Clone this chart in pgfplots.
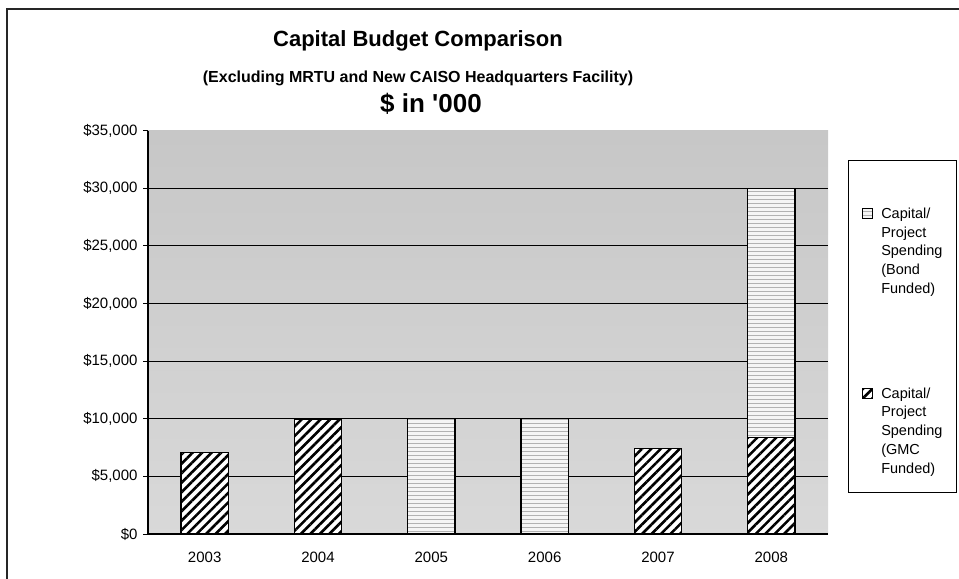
\documentclass[border=0pt]{standalone}
\usepackage{fontspec}
\setmainfont{Liberation Sans}
\usepackage{pgfplots}
\pgfplotsset{compat=1.18}
\usetikzlibrary{patterns.meta}

\pgfplotstableread{
x gmc bond
0 7050 0
1 9950 0
2 0 10000
3 0 10000
4 7400 0
5 8350 21650
}\capdata

\begin{document}
\begin{tikzpicture}
\useasboundingbox (0,0) rectangle (959bp,-579bp);
\draw[line width=1.3bp, black!85] (7bp,-579bp) -- (7bp,-9bp) -- (959bp,-9bp);
\node[font=\bfseries\fontsize{22bp}{26bp}\selectfont, anchor=base] at (418bp,-46bp) {Capital Budget Comparison};
\node[font=\bfseries\fontsize{16bp}{19bp}\selectfont, anchor=base] at (418bp,-82bp) {(Excluding MRTU and New CAISO Headquarters Facility)};
\node[font=\bfseries\fontsize{26bp}{30bp}\selectfont, anchor=base] at (431bp,-112bp) {\$ in \textquotesingle 000};
\draw[line width=1bp, black] (848bp,-160bp) rectangle (956bp,-492bp);
\begin{axis}[
  at={(148bp,-534bp)}, anchor=south west,
  scale only axis, width=680bp, height=403.3bp,
  ybar stacked, bar width=47.6bp,
  xmin=-0.5, xmax=5.5, ymin=0, ymax=35000,
  scaled y ticks=false,
  axis x line*=bottom, axis y line*=left,
  axis line style={line width=1.3bp, black, -},
  tick style={black, line width=1bp},
  major tick length=5bp,
  tick align=outside,
  xtick={0,1,2,3,4,5},
  xticklabels={2003,2004,2005,2006,2007,2008},
  x tick style={draw=none},
  xticklabel style={font=\fontsize{15bp}{18bp}\selectfont, yshift=-9bp},
  extra x ticks={-0.5,0.5,1.5,2.5,3.5,4.5,5.5},
  extra x tick labels={},
  extra x tick style={grid=none, tick style={draw=black, line width=1bp}},
  ytick={0,5000,10000,15000,20000,25000,30000},
  yticklabels={{\$0},{\$5,000},{\$10,000},{\$15,000},{\$20,000},{\$25,000},{\$30,000}},
  extra y ticks={35000},
  extra y tick labels={{\$35{,}000}},
  extra y tick style={grid=none},
  yticklabel style={font=\fontsize{15bp}{18bp}\selectfont, xshift=-2bp},
  ymajorgrids,
  grid style={black, line width=1.1bp},
  axis background/.style={top color=black!22, middle color=black!30, bottom color=black!15},
  clip=false,
  reverse legend,
  legend style={draw=none, fill=none, at={(1.05,0.8108)}, anchor=north west,
    font=\fontsize{14.5bp}{18.7bp}\selectfont, inner sep=0pt,
    row sep=92bp, column sep=0bp,
    nodes={inner sep=0pt},
    cells={anchor=north west, align=left}},
  legend image code/.code={\draw[#1, line width=0.8bp] (0bp,-1bp) rectangle (10bp,-11bp);
     \path (18bp,0bp);},
]
\addplot[fill=white, draw=black, line width=1.3bp,
  postaction={pattern={Lines[angle=45,distance=6.7bp,line width=2.6bp]}}]
  table[x=x,y=gmc]{\capdata};
\addlegendentry{Capital/\\Project\\Spending\\(GMC\\Funded)}
\addplot[fill=black!4, draw=black, line width=1.3bp,
  postaction={pattern={Lines[angle=0,distance=4bp,line width=0.5bp]}, pattern color=black!30}]
  table[x=x,y=bond]{\capdata};
\addlegendentry{Capital/\\Project\\Spending\\(Bond\\Funded)}
\end{axis}
\end{tikzpicture}
\end{document}
